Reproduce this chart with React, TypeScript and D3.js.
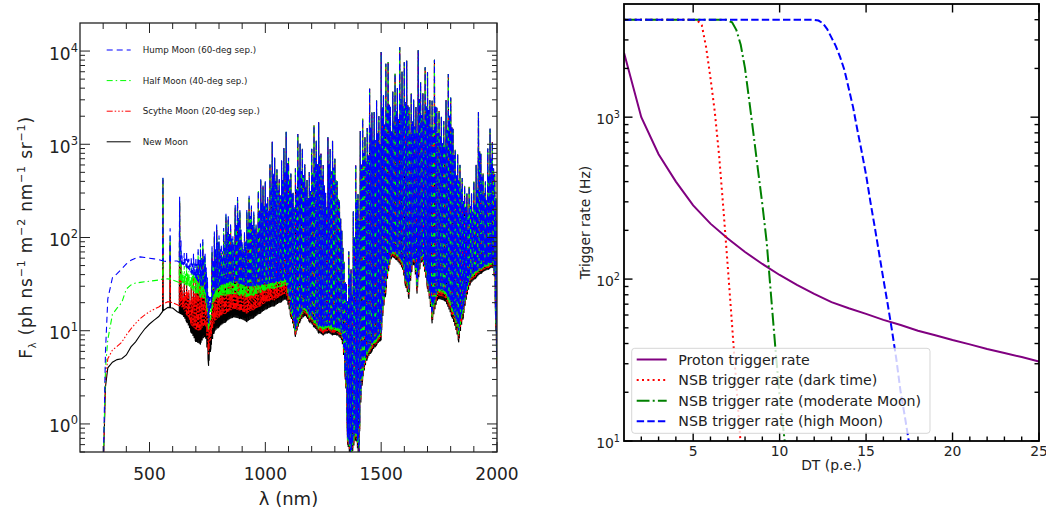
import { useMemo } from 'react'
import * as d3 from 'd3'

const WIDTH = 1046
const HEIGHT = 514

// frames of the two panels (px)
const SKY = { left: 80, right: 497, top: 23, bottom: 452 }
const TRG = { left: 624, right: 1039, top: 4, bottom: 441 }

const FONT = '"DejaVu Sans", Verdana, sans-serif'

// ---------------- left panel: night sky spectrum ----------------

// continuum (lower envelope) sample wavelengths, nm
const CONT_WL = [
  300, 310, 320, 340, 360, 380, 400, 420, 440, 460,
  480, 500, 520, 540, 560, 580, 600, 620, 640, 660,
  680, 700, 720, 740, 755, 765, 780, 800, 830, 860,
  890, 920, 950, 980, 1010, 1040, 1070, 1090, 1110, 1130,
  1150, 1170, 1190, 1210, 1230, 1250, 1270, 1290, 1310, 1330,
  1345, 1355, 1370, 1390, 1405, 1420, 1440, 1460, 1480, 1500,
  1520, 1545, 1565, 1590, 1605, 1620, 1640, 1655, 1675, 1700,
  1720, 1745, 1775, 1805, 1835, 1855, 1885, 1910, 1935, 1965,
  1985, 1995, 2000,
]

const NEW_MOON = [
  0.3, 2.5, 4.0, 4.6, 4.9, 5.0, 5.5, 6.7, 7.6, 9.0,
  10.5, 11.8, 13.0, 14.2, 16.5, 17.8, 17.5, 16.0, 15.0, 12.5,
  9.5, 7.6, 7.2, 9.0, 4.2, 6.5, 9.8, 11.0, 12.5, 14.0,
  13.5, 12.5, 13.8, 15.5, 17.4, 18.5, 20.5, 22.0, 14.0, 8.6,
  12.5, 14.7, 12.5, 11.0, 9.5, 9.0, 9.5, 9.0, 9.0, 8.0,
  3.0, 0.6, 0.4, 0.7, 0.4, 3.0, 5.0, 6.0, 7.0, 8.0,
  25, 62, 58, 48, 30, 22, 55, 25, 58, 28,
  12, 22, 21, 14, 7.5, 14, 32, 37, 42, 46,
  48, 10, 4,
]

const SCYTHE_MOON = [
  0.3, 3.0, 5.0, 6.2, 6.8, 7.5, 9.0, 10.5, 12.0, 13.5,
  14.8, 16.0, 17.0, 18.0, 19.5, 20.5, 20.0, 19.0, 18.0, 15.0,
  11.5, 10.2, 10.0, 12.0, 5.5, 8.5, 12.5, 14.0, 15.5, 17.0,
  16.5, 15.5, 16.8, 18.5, 20.5, 21.5, 23.5, 25.0, 14.8, 9.1,
  13.3, 15.6, 13.3, 11.7, 10.1, 9.5, 10.1, 9.5, 9.5, 8.5,
  3.2, 0.64, 0.42, 0.74, 0.42, 3.2, 5.3, 6.4, 7.4, 8.5,
  27, 65, 61, 51, 32, 24, 58, 27, 61, 30,
  13, 24, 23, 15, 8.2, 15, 34, 39, 44, 48,
  50, 11, 4.4,
]

const HALF_MOON = [
  0.3, 4.0, 8.0, 15, 17.5, 20, 28, 31, 32.5, 33,
  33.5, 34, 34.5, 35, 36, 36, 35, 33.5, 32, 31,
  28, 25.5, 23, 22, 10, 14, 21, 23, 24, 25,
  24, 23, 24, 26, 27.5, 28.5, 30, 31, 15.7, 9.6,
  14.0, 16.5, 14.0, 12.3, 10.6, 10.1, 10.6, 10.1, 10.1, 9.0,
  3.4, 0.67, 0.45, 0.78, 0.45, 3.4, 5.6, 6.7, 7.8, 9.0,
  29, 68, 64, 54, 34, 26, 61, 29, 64, 32,
  14, 26, 25, 16.5, 9, 16, 36, 41, 46, 50,
  52, 12, 4.8,
]

const HUMP_MOON = [
  0.3, 6, 22, 37, 41, 46, 52, 57, 60, 62,
  61, 60, 59, 58, 56, 55, 56, 56, 52, 48,
  42, 36, 31, 28, 12, 18, 26, 30, 32, 33,
  32, 30, 30, 31, 32, 33, 34, 35, 16.8, 10.3,
  15.0, 17.6, 15.0, 13.2, 11.4, 10.8, 11.4, 10.8, 10.8, 9.6,
  3.6, 0.72, 0.48, 0.84, 0.48, 3.6, 6.0, 7.2, 8.4, 9.6,
  31, 71, 67, 56, 36, 28, 64, 31, 67, 34,
  15, 28, 27, 18, 10, 17.5, 38, 43, 48, 52,
  54, 13, 5.2,
]

// isolated visible airglow lines (OI 557.7, Na D, OI 630/636)
const VIS_LINE_WL = [558, 589, 630, 636]
const VIS_LINE_AMP = [400, 70, 220, 40]

// OH / O2 line forest: tallest line per 10 nm bin starting at 640 nm,
// and the weaker lines sitting half a bin further (top of the solid mass)
const IR_LINE_START = 640
const IR_LINE_STEP = 10
const IR_LINE_AMP = [
  12, 18, 22, 14, 20, 28, 25, 45, 55, 70,
  40, 20, 8, 60, 90, 110, 75, 55, 95, 150,
  140, 110, 70, 190, 240, 170, 60, 85, 170, 250,
  190, 160, 110, 290, 390, 330, 370, 240, 580, 1040,
  690, 510, 390, 640, 880, 1330, 690, 470, 290, 540,
  1280, 1000, 880, 590, 400, 490, 880, 1580, 1080, 1710,
  780, 590, 290, 1180, 880, 1080, 690, 390, 240, 110,
  50, 30, 70, 45, 190, 590, 290, 1390, 1870, 1190,
  1490, 3940, 2190, 2210, 2940, 1990, 9780, 3330, 7270, 7570,
  2470, 3600, 5650, 3950, 10950, 5950, 7550, 7850, 2470, 3470,
  2950, 2470, 10150, 4600, 3450, 6650, 5900, 2950, 2920, 8050,
  2450, 2250, 1950, 1750, 2950, 5650, 3150, 1450, 860, 770,
  590, 420, 340, 270, 320, 260, 360, 560, 2170, 750,
  440, 350, 850, 1420, 1010, 450, 150,
]
const IR_CORE_AMP = [
  8, 10, 12, 9, 12, 15, 18,
  25, 30, 35, 25, 12, 5, 35, 50, 60,
  45, 40, 60, 85, 80, 65, 50, 110, 130, 95,
  45, 60, 100, 140, 110, 95, 80, 170, 210, 190,
  200, 160, 320, 450, 380, 300, 250, 380, 480, 600,
  400, 280, 200, 320, 550, 500, 450, 330, 250, 300,
  480, 700, 600, 750, 450, 350, 200, 600, 500, 550,
  400, 250, 150, 70, 30, 20, 40, 25, 100, 250,
  150, 600, 800, 650, 750, 1500, 1100, 1100, 1300, 1000,
  2500, 1600, 2500, 2600, 1300, 1700, 2200, 1800, 3000, 2500,
  2800, 2600, 1300, 1700, 1500, 1300, 3000, 2000, 1700, 2500,
  2300, 1500, 1400, 2500, 1300, 1200, 1000, 950, 1400, 2000,
  1500, 750, 450, 400, 320, 230, 190, 150, 180, 150,
  190, 280, 800, 400, 250, 200, 420, 650, 500, 250,
  80,
]

// drawn bottom to top
const SKY_SERIES = [
  { name: 'New Moon', cont: NEW_MOON, color: '#000000', dash: null },
  { name: 'Scythe Moon (20-deg sep.)', cont: SCYTHE_MOON, color: '#ff0000', dash: '6,2,1.5,2,1.5,2,1.5,2' },
  { name: 'Half Moon (40-deg sep.)', cont: HALF_MOON, color: '#00ff00', dash: '6,3,1.5,3' },
  { name: 'Hump Moon (60-deg sep.)', cont: HUMP_MOON, color: '#0000ff', dash: '6,4' },
]
const SKY_LEGEND_ORDER = [3, 2, 1, 0]

// ---------------- right panel: trigger rates ----------------

const PROTON_DT = [1, 2, 3, 4, 5, 6, 7, 8, 9, 10, 11, 12, 13, 14, 15, 16, 17, 18, 19, 20, 21, 22, 23, 24, 25]
const PROTON_RATE = [2500, 1000, 590, 400, 285, 220, 178, 147, 124, 106, 92, 81, 72, 66, 61, 56, 52, 48, 45, 42, 39.5, 37, 35, 33, 31]

const DARK_DT = [1, 5, 5.25, 5.5, 5.75, 6, 6.25, 6.5, 6.75, 7, 7.25, 7.5, 7.75, 8]
const DARK_RATE = [4000, 4000, 3950, 3700, 2700, 1750, 1080, 580, 270, 120, 52, 22, 9.5, 4]

const MODERATE_DT = [1, 6.9, 7.25, 7.5, 7.75, 8, 8.25, 8.5, 8.75, 9, 9.25, 9.5, 9.75, 10, 10.25, 10.5]
const MODERATE_RATE = [4000, 4000, 3850, 3450, 2800, 2000, 1250, 770, 470, 290, 170, 80, 38, 19, 11, 6]

const HIGH_DT = [1, 11.9, 12.25, 12.5, 12.75, 13, 13.25, 13.5, 13.75, 14, 14.25, 14.5, 14.75, 15, 15.25, 15.5, 15.75, 16, 16.25, 16.5, 16.75, 17, 17.25, 17.5, 17.75]
const HIGH_RATE = [4000, 4000, 3950, 3800, 3500, 3100, 2750, 2350, 1950, 1500, 1150, 830, 610, 440, 300, 210, 145, 100, 70, 48, 32, 20, 14, 9.5, 6]

const TRIGGER_SERIES = [
  { label: 'Proton trigger rate', dt: PROTON_DT, rate: PROTON_RATE, color: '#800080', dash: null },
  { label: 'NSB trigger rate (dark time)', dt: DARK_DT, rate: DARK_RATE, color: '#ff0000', dash: '2,3.3' },
  { label: 'NSB trigger rate (moderate Moon)', dt: MODERATE_DT, rate: MODERATE_RATE, color: '#008000', dash: '12.8,3.2,2,3.2' },
  { label: 'NSB trigger rate (high Moon)', dt: HIGH_DT, rate: HIGH_RATE, color: '#0000ff', dash: '7.4,3.2' },
]

const DT_MAJOR = [5, 10, 15, 20, 25]

function minorLogTicks(lo: number, hi: number) {
  const out: number[] = []
  for (let e = Math.floor(Math.log10(lo)); e <= Math.ceil(Math.log10(hi)); e++) {
    for (let m = 2; m <= 9; m++) {
      const v = m * 10 ** e
      if (v >= lo && v < hi) out.push(v)
    }
  }
  return out
}

function SkyPanel() {
  const x = d3.scaleLinear().domain([200, 2000]).range([SKY.left, SKY.right])
  const y = d3.scaleLog().domain([0.5, 2e4]).range([SKY.bottom, SKY.top])

  const paths = useMemo(() => {
    const line = d3.line<[number, number]>()
      .x(d => x(d[0]))
      .y(d => y(Math.max(d[1], 0.05)))
    return SKY_SERIES.map(s => {
      // continuum between the samples, used as the foot of each emission line
      const base = d3.scaleLinear().domain(CONT_WL).range(s.cont).clamp(true)
      const pts: [number, number][] = CONT_WL.map((w, i) => [w, s.cont[i]])
      VIS_LINE_WL.forEach((w, i) => {
        pts.push([w - 1.5, base(w - 1.5)], [w, base(w) + VIS_LINE_AMP[i]], [w + 1.5, base(w + 1.5)])
      })
      const q = IR_LINE_STEP / 4
      IR_LINE_AMP.forEach((a, i) => {
        const w = IR_LINE_START + i * IR_LINE_STEP
        pts.push(
          [w, base(w) + a],
          [w + q, base(w + q)],
          [w + 2 * q, base(w + 2 * q) + IR_CORE_AMP[i]],
          [w + 3 * q, base(w + 3 * q)],
        )
      })
      pts.sort((a, b) => a[0] - b[0])
      return line(pts.filter(p => p[0] <= 2000))
    })
  }, [])

  const xTicks = d3.range(300, 2001, 100)
  const yMinor = minorLogTicks(0.5, 2e4)
  const decades = [0, 1, 2, 3, 4]
  const ink = '#222'

  return (
    <g fontFamily={FONT} fill={ink}>
      <defs>
        <clipPath id="sky-clip">
          <rect x={SKY.left} y={SKY.top} width={SKY.right - SKY.left} height={SKY.bottom - SKY.top} />
        </clipPath>
      </defs>

      <g clipPath="url(#sky-clip)">
        {SKY_SERIES.map((s, i) => (
          <path key={s.name} d={paths[i] || ''} fill="none" stroke={s.color}
            strokeWidth={1.1} strokeDasharray={s.dash || undefined} />
        ))}
      </g>

      {/* ticks, all four sides, pointing in */}
      <g stroke={ink} strokeWidth={1}>
        {xTicks.map(v => {
          const len = v % 500 === 0 ? 10 : 6
          return (
            <g key={`xt${v}`}>
              <line x1={x(v)} x2={x(v)} y1={SKY.bottom} y2={SKY.bottom - len} />
              <line x1={x(v)} x2={x(v)} y1={SKY.top} y2={SKY.top + len} />
            </g>
          )
        })}
        {decades.map(k => (
          <g key={`yt${k}`}>
            <line x1={SKY.left} x2={SKY.left + 10} y1={y(10 ** k)} y2={y(10 ** k)} />
            <line x1={SKY.right} x2={SKY.right - 10} y1={y(10 ** k)} y2={y(10 ** k)} />
          </g>
        ))}
        {yMinor.map(v => (
          <g key={`ym${v}`}>
            <line x1={SKY.left} x2={SKY.left + 5} y1={y(v)} y2={y(v)} />
            <line x1={SKY.right} x2={SKY.right - 5} y1={y(v)} y2={y(v)} />
          </g>
        ))}
      </g>
      <rect x={SKY.left} y={SKY.top} width={SKY.right - SKY.left} height={SKY.bottom - SKY.top}
        fill="none" stroke={ink} strokeWidth={1.3} />

      {/* tick labels */}
      {[500, 1000, 1500, 2000].map(v => (
        <text key={`xl${v}`} x={x(v)} y={480} textAnchor="middle" fontSize={17}>{v}</text>
      ))}
      {decades.map(k => (
        <text key={`yl${k}`} x={78} y={y(10 ** k) + 8.5} textAnchor="end" fontSize={17}>
          10<tspan dy={-8} fontSize={11.5}>{k}</tspan>
        </text>
      ))}

      {/* axis titles */}
      <text x={(SKY.left + SKY.right) / 2} y={505} textAnchor="middle" fontSize={18}>λ (nm)</text>
      <text transform={`translate(32, ${(SKY.top + SKY.bottom) / 2}) rotate(-90)`} textAnchor="middle"
        fontSize={17} letterSpacing={0.8}>
        F<tspan dy={4} fontSize={10}>λ</tspan>
        <tspan dy={-4}> (ph ns</tspan><tspan dy={-7} fontSize={11}>−1</tspan>
        <tspan dy={7}> m</tspan><tspan dy={-7} fontSize={11}>−2</tspan>
        <tspan dy={7}> nm</tspan><tspan dy={-7} fontSize={11}>−1</tspan>
        <tspan dy={7}> sr</tspan><tspan dy={-7} fontSize={11}>−1</tspan>
        <tspan dy={7}>)</tspan>
      </text>

      {/* legend */}
      {SKY_LEGEND_ORDER.map((si, row) => {
        const s = SKY_SERIES[si]
        const cy = 50 + row * 30.6
        return (
          <g key={`lg${s.name}`}>
            <line x1={106.7} x2={130.7} y1={cy} y2={cy} stroke={s.color} strokeWidth={1}
              strokeDasharray={s.dash || undefined} />
            <text x={142.7} y={cy + 3} fontSize={8.7}>{s.name}</text>
          </g>
        )
      })}
    </g>
  )
}

function TriggerPanel() {
  const x = d3.scaleLinear().domain([1, 25]).range([TRG.left, TRG.right])
  const y = d3.scaleLog().domain([10, 5000]).range([TRG.bottom, TRG.top])
  const line = d3.line<[number, number]>().x(d => x(d[0])).y(d => y(Math.max(d[1], 1)))

  const xMinor = d3.range(2, 25).filter(v => v % 5 !== 0)
  const yMinor = minorLogTicks(10, 5000)
  const ink = '#000'

  const legend = { x: 631.7, y: 348.3, w: 298.3, h: 85 }

  return (
    <g fontFamily={FONT}>
      <defs>
        <clipPath id="trg-clip">
          <rect x={TRG.left} y={TRG.top} width={TRG.right - TRG.left} height={TRG.bottom - TRG.top} />
        </clipPath>
      </defs>

      <g clipPath="url(#trg-clip)">
        {TRIGGER_SERIES.map(s => (
          <path key={s.label} d={line(s.dt.map((d, i) => [d, s.rate[i]] as [number, number])) || ''}
            fill="none" stroke={s.color} strokeWidth={2} strokeDasharray={s.dash || undefined} />
        ))}
      </g>

      <g stroke={ink} strokeWidth={1.4}>
        {DT_MAJOR.map(v => (
          <g key={`xM${v}`}>
            <line x1={x(v)} x2={x(v)} y1={TRG.bottom} y2={TRG.bottom - 8.5} />
            <line x1={x(v)} x2={x(v)} y1={TRG.top} y2={TRG.top + 8.5} />
          </g>
        ))}
        {xMinor.map(v => (
          <line key={`xm${v}`} x1={x(v)} x2={x(v)} y1={TRG.bottom} y2={TRG.bottom - 4.5} />
        ))}
        {[10, 100, 1000].map(v => (
          <g key={`yM${v}`}>
            <line x1={TRG.left} x2={TRG.left + 8.5} y1={y(v)} y2={y(v)} />
            <line x1={TRG.right} x2={TRG.right - 8.5} y1={y(v)} y2={y(v)} />
          </g>
        ))}
        {yMinor.map(v => (
          <g key={`ym${v}`}>
            <line x1={TRG.left} x2={TRG.left + 4.5} y1={y(v)} y2={y(v)} />
            <line x1={TRG.right} x2={TRG.right - 4.5} y1={y(v)} y2={y(v)} />
          </g>
        ))}
      </g>
      <rect x={TRG.left} y={TRG.top} width={TRG.right - TRG.left} height={TRG.bottom - TRG.top}
        fill="none" stroke={ink} strokeWidth={1.8} />

      {DT_MAJOR.map(v => (
        <text key={`xl${v}`} x={x(v)} y={456} textAnchor="middle" fontSize={13.9} fill="#222">{v}</text>
      ))}
      {[1, 2, 3].map(k => (
        <text key={`yl${k}`} x={620} y={y(10 ** k) + 6.5} textAnchor="end" fontSize={13.9} fill="#222">
          10<tspan dy={-6} fontSize={9.7}>{k}</tspan>
        </text>
      ))}
      <text x={(TRG.left + TRG.right) / 2} y={470} textAnchor="middle" fontSize={13.9} fill="#222">DT (p.e.)</text>
      <text transform={`translate(590, ${(TRG.top + TRG.bottom) / 2}) rotate(-90)`} textAnchor="middle"
        fontSize={13.9} fill="#222">Trigger rate (Hz)</text>

      {/* legend */}
      <rect x={legend.x} y={legend.y} width={legend.w} height={legend.h} rx={3}
        fill="#fff" fillOpacity={0.8} stroke="#ccc" strokeOpacity={0.8} strokeWidth={1} />
      {TRIGGER_SERIES.map((s, i) => {
        const cy = 359.5 + i * 20.6
        return (
          <g key={`lg${s.label}`}>
            <line x1={636.7} x2={666.7} y1={cy} y2={cy} stroke={s.color} strokeWidth={2}
              strokeDasharray={s.dash || undefined} />
            <text x={678.3} y={cy + 5} fontSize={14.2} fill="#222">{s.label}</text>
          </g>
        )
      })}
    </g>
  )
}

export default function App() {
  return (
    <div style={{ position: 'absolute', left: 0, top: 0 }}>
      <svg width={WIDTH} height={HEIGHT} style={{ display: 'block', background: '#fff' }}>
        <SkyPanel />
        <TriggerPanel />
      </svg>
    </div>
  )
}
